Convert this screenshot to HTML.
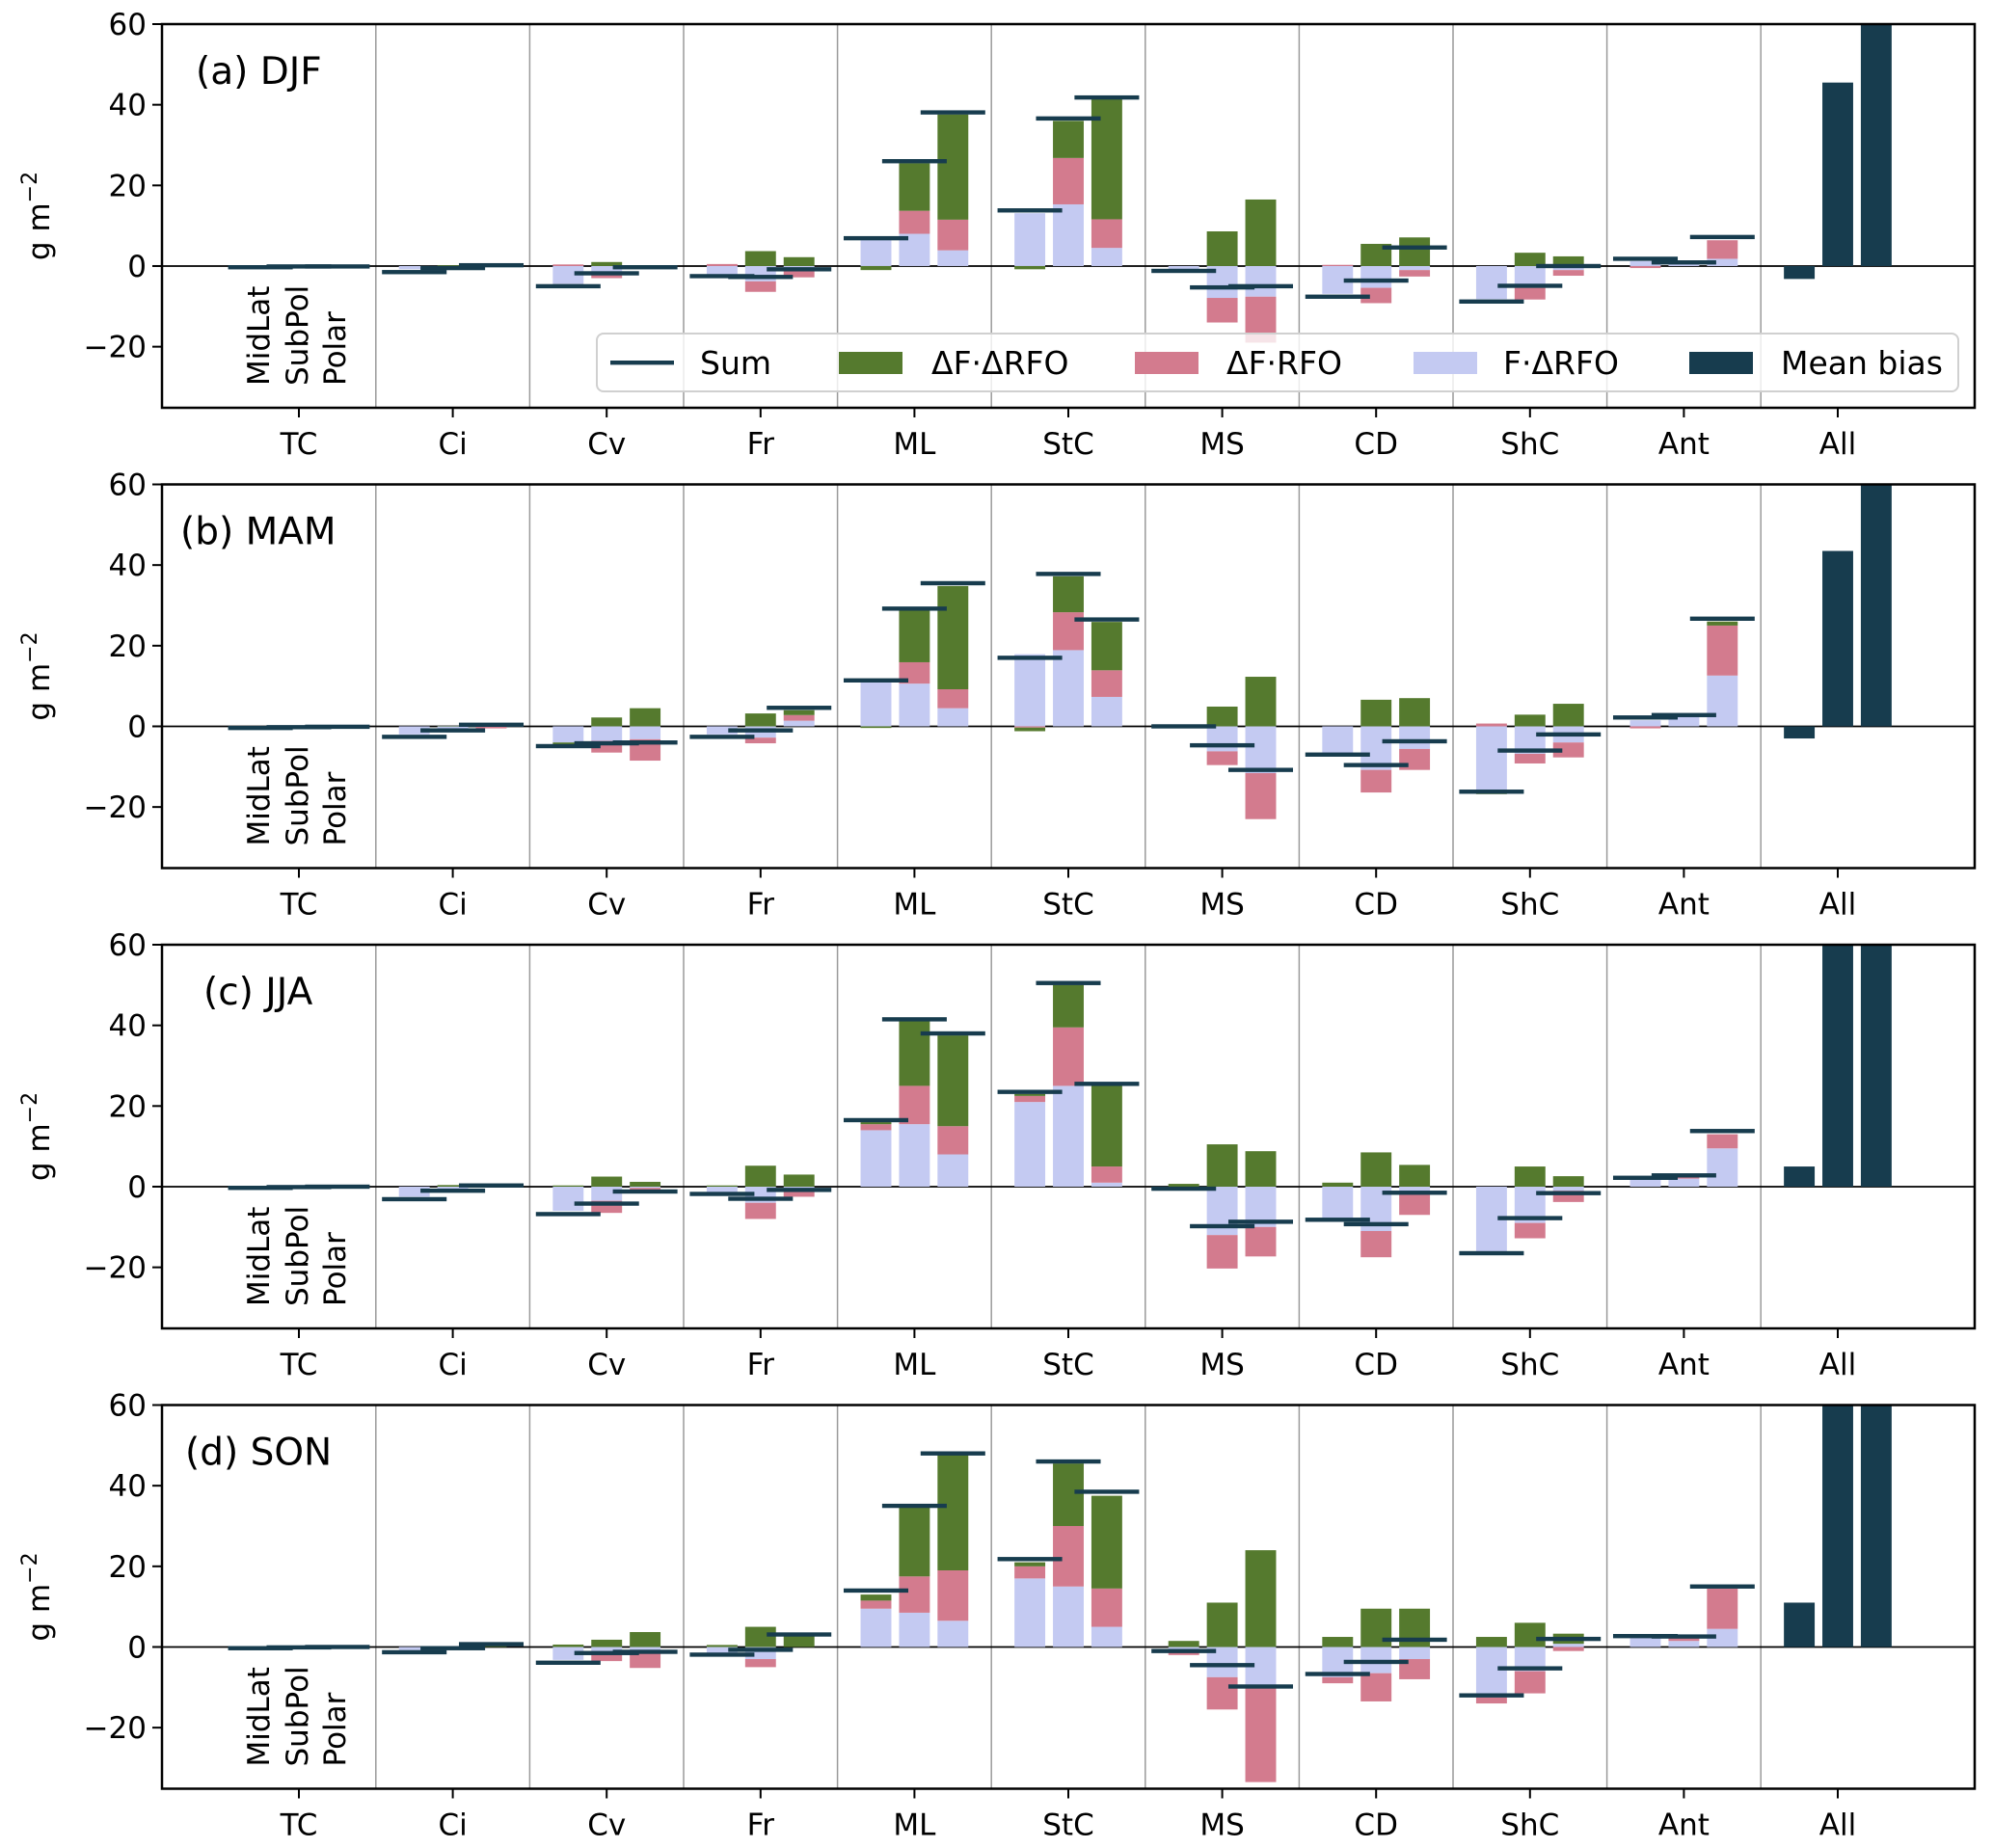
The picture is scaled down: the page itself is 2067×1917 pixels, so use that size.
<!DOCTYPE html>
<html><head><meta charset="utf-8"><style>
html,body{margin:0;padding:0;background:#fff}
svg{display:block;font-family:"DejaVu Sans","Liberation Sans",sans-serif}
</style></head><body>
<svg id="chart" width="2067" height="1917" viewBox="0 0 2067 1917" xmlns="http://www.w3.org/2000/svg"></svg>
<script>
const categories = ["TC","Ci","Cv","Fr","ML","StC","MS","CD","ShC","Ant","All"];
const seasons = ["(a) DJF","(b) MAM","(c) JJA","(d) SON"];
const tickValues = [60,40,20,0,-20];
const tickLabels = ["60","40","20","0","\u221220"];
const latLabels = ["MidLat","SubPol","Polar"];

// DJF
const djfF = [[0,0,0],[-0.8,-0.3,0],[-4.5,-1.8,-0.3],[-2.5,-3.8,-1.0],[6.7,8.0,3.9],[13.1,15.3,4.5],[-1.0,-7.9,-7.6],[-6.9,-5.4,-1.0],[-8.2,-5.4,-1.0],[1.2,0.8,1.8]];
const djfDF = [[0,0,0],[0,0,0],[0.4,-1.2,-0.2],[0.5,-2.6,-1.8],[0,5.7,7.6],[0,11.5,7.1],[0,-6.1,-11.4],[0.3,-3.8,-1.6],[0,-2.9,-1.4],[-0.5,0,4.6]];
const djfDD = [[0,0,0],[0,0.2,0.1],[-0.9,1.0,0.2],[0,3.7,2.2],[-1.0,11.8,26.1],[-0.8,9.2,29.8],[0,8.6,16.5],[0,5.5,7.1],[0,3.3,2.4],[0,0,0]];
const djfSum = [[-0.3,-0.1,-0.1],[-1.5,-0.5,0.2],[-5.0,-1.8,-0.3],[-2.5,-2.7,-0.8],[6.9,26.0,38.1],[13.8,36.6,41.8],[-1.2,-5.3,-5.0],[-7.6,-3.6,4.6],[-8.8,-4.9,0],[1.8,0.9,7.2]];
const djfBias = [-3.2,45.5,75];
// MAM
const mamF = [[0,0,0],[-2.0,-1.0,0],[-4.0,-3.6,-3.2],[-2.0,-2.8,1.4],[10.9,10.6,4.5],[17.9,18.9,7.3],[0.2,-6.2,-11.6],[-7.0,-10.8,-5.6],[-15.9,-6.8,-4.0],[1.5,2.5,12.6]];
const mamDF = [[0,0,0],[0,0,-0.5],[0,-2.9,-5.3],[0,-1.4,1.4],[0,5.3,4.7],[-0.3,9.4,6.6],[0,-3.4,-11.4],[0,-5.6,-5.2],[0.7,-2.4,-3.7],[-0.5,0,12.4]];
const mamDD = [[0,0,0],[0,0.1,0.5],[-0.9,2.2,4.5],[0,3.2,1.2],[-0.4,12.8,25.6],[-0.9,8.9,12.0],[0,4.9,12.3],[0,6.6,7.0],[-0.9,2.9,5.6],[0,0,1.0]];
const mamSum = [[-0.4,-0.2,-0.1],[-2.6,-1.0,0.4],[-4.9,-4.2,-4.0],[-2.6,-1.0,4.6],[11.4,29.2,35.5],[17.0,37.8,26.5],[0,-4.7,-10.8],[-7.0,-9.6,-3.7],[-16.2,-6.0,-2.0],[2.2,2.8,26.7]];
const mamBias = [-3,43.5,75];
// JJA
const jjaF = [[0,0,0],[-2.5,-0.8,0],[-6,-3.5,-0.3],[-1.3,-4,-1],[14,15.5,8],[21,25,1],[-0.5,-12,-10],[-8,-11,-2],[-16.5,-9,-1],[2,2,9.5]];
const jjaDF = [[0,0,0],[0,0,0],[0,-3,-1.2],[0,-4,-1.5],[1.5,9.5,7],[1.5,14.5,4],[0,-8.3,-7.3],[-0.5,-6.5,-5],[0,-3.8,-2.8],[0,1,3.5]];
const jjaDD = [[0,0,0],[0,0.4,0.3],[0.3,2.5,1.2],[0.3,5.2,3],[0.5,16,22.5],[0.5,10.5,20],[0.7,10.5,8.8],[1,8.5,5.4],[0,5,2.6],[0,0,0]];
const jjaSum = [[-0.3,-0.1,0],[-3.1,-1.0,0.3],[-6.8,-4.2,-1.2],[-1.8,-3.0,-0.8],[16.5,41.5,38],[23.5,50.5,25.5],[-0.5,-9.8,-8.7],[-8.2,-9.3,-1.5],[-16.5,-7.8,-1.6],[2.2,2.8,13.8]];
const jjaBias = [5,75,75];
// SON
const sonF = [[0,0,0],[-0.8,-0.2,0],[-3.2,-1.8,-1],[-1.5,-3,0],[9.5,8.5,6.5],[17,15,5],[-1,-7.5,-10],[-7.5,-6.5,-3],[-12.5,-6,0.8],[2.5,1.5,4.5]];
const sonDF = [[0,0,0],[0,0,0],[0,-1.7,-4.2],[0,-2,0],[2,9,12.5],[3,15,9.5],[-1,-8,-23.5],[-1.5,-7,-5],[-1.5,-5.5,-1],[0,1,10]];
const sonDD = [[0,0,0],[0,0,0.7],[0.6,1.8,3.7],[0.5,5,3],[1.5,17.5,29],[1,15.5,23],[1.5,11,24],[2.5,9.5,9.5],[2.5,6,2.5],[0,0,0]];
const sonSum = [[-0.3,-0.1,0],[-1.3,-0.3,0.7],[-3.9,-1.5,-1.2],[-1.9,-0.7,3.1],[14,35,48],[21.8,46,38.5],[-1,-4.5,-9.8],[-6.7,-3.7,1.8],[-12,-5.3,2],[2.7,2.6,15]];
const sonBias = [11,75,75];

const allF = [djfF,mamF,jjaF,sonF];
const allDF = [djfDF,mamDF,jjaDF,sonDF];
const allDD = [djfDD,mamDD,jjaDD,sonDD];
const allSum = [djfSum,mamSum,jjaSum,sonSum];
const allBias = [djfBias,mamBias,jjaBias,sonBias];

const NS = "http://www.w3.org/2000/svg";
const svg = document.getElementById("chart");
const COLORS = {F:"#c4caf2", DF:"#d37b8e", DD:"#557a2e", dark:"#173c4e"};
const tops = [25,502.5,980,1457.5];
const H = 398, L = 168, R = 2048;
const X0 = 310, DX = 159.6, PXU = 4.183, YMAX = 60;
const titleX = [203,187,211,192];

function el(tag, attrs, parent){ const e=document.createElementNS(NS,tag); for(const k in attrs) e.setAttribute(k,attrs[k]); (parent||svg).appendChild(e); return e; }
function xs(c){ return X0 + DX*c; }
function ysFor(T){ return v => T + (YMAX - v)*PXU; }

const defs = el("defs",{});
tops.forEach((T,p)=>{
  const cp = el("clipPath",{id:"clip"+p},defs);
  el("rect",{x:L,y:T,width:R-L,height:H},cp);
});

tops.forEach((T,p)=>{
  const y = ysFor(T);
  const g = el("g",{});
  
  
  for(let c=0;c<10;c++){
    const s = el("line",{x1:xs(c+0.5),x2:xs(c+0.5),y1:T,y2:T+H,stroke:"#9a9a9a","stroke-width":1.5},g);
    
    
  }
  const bars = el("g",{"clip-path":"url(#clip"+p+")"},g);
  
  
  const z = el("line",{x1:L,x2:R,y1:y(0),y2:y(0),stroke:"#000","stroke-width":1.8},bars);
  
  
  const offs = [-0.25,0,0.25];
  for(let c=0;c<10;c++){
    for(let k=0;k<3;k++){
      const cx = xs(c+offs[k]);
      let pos=0, neg=0;
      [["F",allF[p][c][k]],["DF",allDF[p][c][k]],["DD",allDD[p][c][k]]].forEach(([key,v])=>{
        if(v===0) return;
        let a,b;
        if(v>0){a=pos;b=pos+v;pos=b;} else {a=neg;b=neg+v;neg=b;}
        const r = el("rect",{x:cx-DX*0.1,width:DX*0.2,y:Math.min(y(a),y(b)),height:Math.abs(y(a)-y(b)),fill:COLORS[key]},bars);
        
        
      });
    }
  }
  for(let c=0;c<10;c++){
    for(let k=0;k<3;k++){
      const cx = xs(c+offs[k]);
      const s = el("rect",{x:cx-DX*0.21,width:DX*0.42,y:y(allSum[p][c][k])-2.2,height:4.4,fill:COLORS.dark},bars);
      
      
    }
  }
  for(let k=0;k<3;k++){
    const cx = xs(10+offs[k]); const v = allBias[p][k];
    const r = el("rect",{x:cx-DX*0.1,width:DX*0.2,y:Math.min(y(0),y(v)),height:Math.abs(y(v)-y(0)),fill:COLORS.dark},bars);
    
    
  }
  const fr = el("rect",{x:L,y:T,width:R-L,height:H,fill:"none",stroke:"#000","stroke-width":2.5},g);
  
  
  tickValues.forEach((v,i)=>{
    el("line",{x1:L-10,x2:L,y1:y(v),y2:y(v),stroke:"#000","stroke-width":2},g);
    const t = el("text",{x:L-16,y:y(v)+11,"text-anchor":"end","font-size":31,fill:"#000"},g);
    t.textContent = tickLabels[i];
    
    
  });
  categories.forEach((c,i)=>{
    el("line",{x1:xs(i),x2:xs(i),y1:T+H,y2:T+H+10,stroke:"#000","stroke-width":2},g);
    const t = el("text",{x:xs(i),y:T+H+48,"text-anchor":"middle","font-size":31,fill:"#000"},g);
    t.textContent = c;
    
    
  });
  const yl = el("text",{x:0,y:0,transform:"translate(51,"+(T+H/2)+") rotate(-90)","text-anchor":"middle","font-size":31,fill:"#000"},g);
  
  
  yl.textContent = "g m";
  const sup = el("tspan",{dy:-13,"font-size":22},yl); sup.textContent = "\u22122";
  const tt = el("text",{x:titleX[p],y:T+62,"font-size":39,fill:"#000"},g);
  tt.textContent = seasons[p];
  
  
  [279,319,358].forEach((bx,i)=>{
    const t = el("text",{x:0,y:0,transform:"translate("+bx+","+(T+375)+") rotate(-90)","font-size":31,fill:"#000"},g);
    t.textContent = latLabels[i];
    
    
  });
});

const lg = el("g",{});


el("rect",{x:619,y:346,width:1412,height:60,rx:7,fill:"#fff","fill-opacity":0.8,stroke:"#d0d0d0","stroke-width":2},lg);
const legendItems = [["Sum","line",633,726],["\u0394F\u00b7\u0394RFO",COLORS.DD,870,966],["\u0394F\u00b7RFO",COLORS.DF,1177,1272],["F\u00b7\u0394RFO",COLORS.F,1466,1559],["Mean bias",COLORS.dark,1752,1847]];
legendItems.forEach(([label,col,hx,tx])=>{
  if(col==="line") el("rect",{x:hx,y:374,width:66,height:4.4,fill:COLORS.dark},lg);
  else el("rect",{x:hx,y:365,width:66,height:23,fill:col},lg);
  const t = el("text",{x:tx,y:388,"font-size":33,fill:"#000"},lg);
  t.textContent = label;
  
  
});
</script>
</body></html>
